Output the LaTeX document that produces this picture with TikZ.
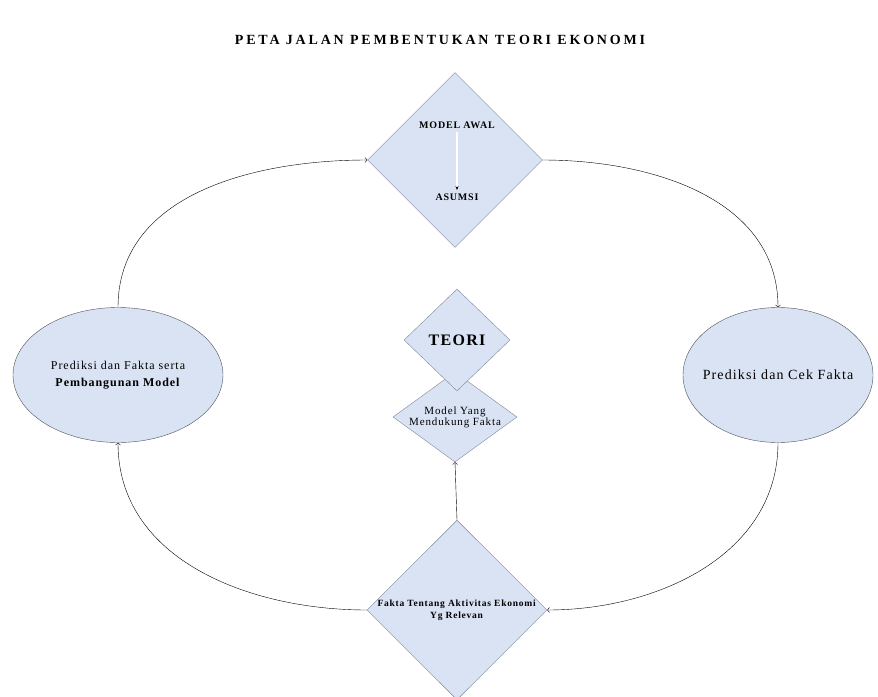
\documentclass[tikz,border=0pt]{standalone}
\usepackage{fontspec}
\setmainfont[LetterSpace=8]{Liberation Serif}
\newfontfamily\hurufjudul[LetterSpace=20]{Liberation Serif}
\usetikzlibrary{shapes.geometric,arrows.meta}
\definecolor{isian}{RGB}{218,227,243}
\definecolor{garis}{RGB}{125,135,155}
\tikzset{%
  kotak/.style = {shape=diamond, draw=garis, fill=isian,%
                  inner sep=0pt, align=center},%
  elips/.style = {shape=ellipse, draw=garis!60!black, fill=isian,%
                  inner sep=0pt, align=center},%
  alur/.style  = {->, thin}%
}

\begin{document}
\begin{tikzpicture}[x=1pt,y=-1pt,
	every node/.style = {font=\fontsize{11}{13}\selectfont}]
	\useasboundingbox (0,0) rectangle (878,696);
	\node [font=\hurufjudul\fontsize{14}{16}\selectfont\bfseries] (judul) at (440,40)
		{PETA JALAN PEMBENTUKAN TEORI EKONOMI};
	% belah ketupat atas
	\node [kotak, minimum width=175pt, minimum height=175pt] (model) at (455,160) {};
	\node [font=\fontsize{10}{12}\selectfont\bfseries] (awal) at (457,125) {MODEL AWAL};
	\node [font=\fontsize{10}{12}\selectfont\bfseries] (asumsi) at (457,197) {ASUMSI};
	\draw [white, line width=1.2pt, -{Stealth[black,length=4pt]}] (awal) -- (asumsi);
	% elips kiri dan kanan
	\node [elips, minimum width=210pt, minimum height=135pt,
		font=\fontsize{12}{17}\selectfont] (kiri) at (118,375)
		{Prediksi dan Fakta serta\\ \textbf{Pembangunan Model}};
	\node [elips, minimum width=190pt, minimum height=135pt, inner xsep=-12pt,
		font=\fontsize{14}{16}\selectfont] (kanan) at (778,375)
		{Prediksi dan Cek Fakta};
	% tengah
	\node [kotak, shape aspect=1.38, minimum width=124pt, minimum height=90pt,
		font=\fontsize{11}{10}\selectfont] (dukung) at (455,417)
		{Model Yang\\ Mendukung Fakta};
	\node [kotak, minimum width=106pt, minimum height=102pt,
		font=\fontsize{16}{18}\selectfont\bfseries] (teori) at (457,340) {TEORI};
	% bawah
	\node [kotak, minimum width=180pt, minimum height=176pt,
		font=\fontsize{9.5}{12}\selectfont] (fakta) at (457,610)
		{\textbf{Fakta Tentang Aktivitas Ekonomi}\\ \textbf{Yg Relevan}};
	% alur
	\draw [alur] (kiri.north) to[out=90,in=180] (model.west);
	\draw [alur] (model.east) to[out=0,in=90] (kanan.north);
	\draw [alur] (kanan.south) to[out=-90,in=0] (fakta.east);
	\draw [alur] (fakta.west) to[out=180,in=-90] (kiri.south);
	\draw [alur] (fakta.north) -- (dukung.south);
\end{tikzpicture}
\end{document}
